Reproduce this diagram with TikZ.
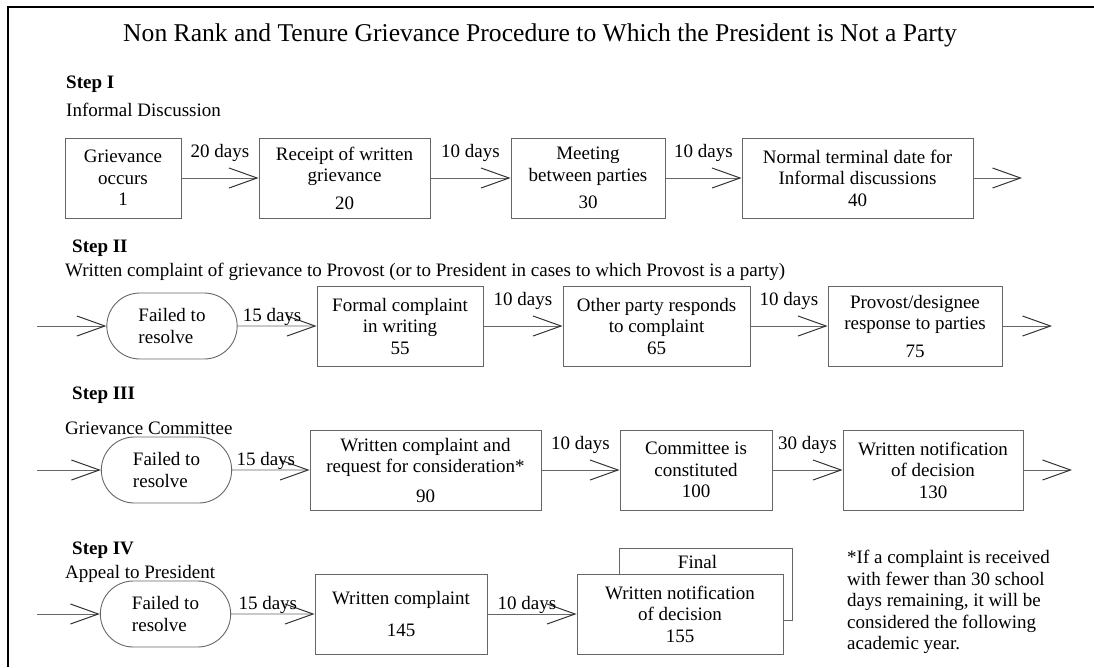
\documentclass[tikz,border=0pt]{standalone}
\usepackage{fontspec}
\setmainfont{Liberation Serif}
\usetikzlibrary{arrows.meta,shapes.misc}
\definecolor{linegray}{HTML}{666666}
\definecolor{tipgray}{HTML}{333333}
\newcommand\bodysize{\fontsize{19}{21.5}\selectfont}

\begin{document}
\bodysize
\begin{tikzpicture}[x=1pt,y=-1pt,
    stepbox/.style={draw=linegray,line width=0.9pt,fill=white,align=center,inner sep=2pt,minimum height=80pt},
    failbox/.style={draw=linegray,line width=0.9pt,rounded rectangle,align=left,minimum width=143pt,minimum height=66pt},
    flow/.style={draw=linegray,line width=0.9pt,-{Straight Barb[length=28pt,width=20pt,line width=1pt,color=tipgray]}},
    dayshi/.style={midway,anchor=base,yshift=20.5pt},
    dayslo/.style={midway,anchor=base,yshift=5pt,xshift=-5pt},
    steplbl/.style={anchor=base west,inner sep=0pt,font=\bodysize\bfseries},
    txtlbl/.style={anchor=base west,inner sep=0pt}]
  \useasboundingbox (0,0) rectangle (1094,667);
  \draw[line width=1.5pt] (8,667) -- (8,7) -- (1094,7);
  \node[anchor=base,font=\fontsize{25.6}{30}\selectfont] (title) at (540,41.5)
    {Non Rank and Tenure Grievance Procedure to Which the President is Not a Party};

  \node[steplbl] (step1) at (66,88) {Step I};
  \node[txtlbl] (sub1) at (66,116) {Informal Discussion};
  \node[stepbox,minimum width=116pt] (occ1) at (123,178) {Grievance\\occurs\\1};
  \node[stepbox,minimum width=171pt] (rcpt20) at (344.5,178) {Receipt of written\\grievance\\[6pt]20};
  \node[stepbox,minimum width=154pt] (meet30) at (588,178) {Meeting\\between parties\\[6pt]30};
  \node[stepbox,minimum width=231pt] (term40) at (857.5,178) {Normal terminal date for\\Informal discussions\\40};
  \coordinate (out1) at (1022,178);

  \node[steplbl] (step2) at (72,252) {Step II};
  \node[txtlbl] (sub2) at (65,276) {Written complaint of grievance to Provost (or to President in cases to which Provost is a party)};
  \coordinate (in2) at (37,326);
  \node[failbox] (fail2) at (172,326) {Failed to\\resolve};
  \node[stepbox,minimum width=166pt] (formal55) at (400,326) {Formal complaint\\in writing\\55};
  \node[stepbox,minimum width=187pt] (resp65) at (656.5,326) {Other party responds\\to complaint\\65};
  \node[stepbox,minimum width=174pt] (prov75) at (915,326) {Provost/designee\\response to parties\\[6pt]75};
  \coordinate (out2) at (1052,326);

  \node[steplbl] (step3) at (72,399) {Step III};
  \node[txtlbl] (sub3) at (65,434) {Grievance Committee};
  \coordinate (in3) at (37,470);
  \node[failbox] (fail3) at (166.5,470) {Failed to\\resolve};
  \node[stepbox,minimum width=231pt] (req90) at (425.5,470) {Written complaint and\\request for consideration*\\[8pt]90};
  \node[stepbox,minimum width=152pt] (comm100) at (696,470) {Committee is\\constituted\\100};
  \node[stepbox,minimum width=180pt] (notif130) at (933,470) {Written notification\\of decision\\130};
  \coordinate (out3) at (1072,470);

  \node[steplbl] (step4) at (72,554) {Step IV};
  \node[txtlbl] (sub4) at (65,578) {Appeal to President};
  \coordinate (in4) at (37,614);
  \node[failbox] (fail4) at (165.5,614) {Failed to\\resolve};
  \node[stepbox,minimum width=172pt] (wc145) at (401,614) {Written complaint\\[10pt]145};
  \node[stepbox,minimum width=173pt,minimum height=72pt,
    label={[anchor=base,yshift=-21pt,xshift=-8pt]north:Final}] (final) at (705.5,584) {};
  \node[stepbox,minimum width=206pt] (notif155) at (680,614) {Written notification\\of decision\\155};
  \node[anchor=north west,align=left,inner sep=0pt] (note) at (847,550)
    {*If a complaint is received\\with fewer than 30 school\\days remaining, it will be\\considered the following\\academic year.};

  \begin{scope}
    \draw[flow] (occ1) -- (rcpt20) node[dayshi] {20 days};
    \draw[flow] (rcpt20) -- (meet30) node[dayshi] {10 days};
    \draw[flow] (meet30) -- (term40) node[dayshi] {10 days};
    \draw[flow] (term40) -- (out1);
    \draw[flow] (in2) -- (fail2);
    \draw[flow] (fail2) -- (formal55) node[dayslo] {15 days};
    \draw[flow] (formal55) -- (resp65) node[dayshi] {10 days};
    \draw[flow] (resp65) -- (prov75) node[dayshi] {10 days};
    \draw[flow] (prov75) -- (out2);
    \draw[flow] (in3) -- (fail3);
    \draw[flow] (fail3) -- (req90) node[dayslo] {15 days};
    \draw[flow] (req90) -- (comm100) node[dayshi] {10 days};
    \draw[flow] (comm100) -- (notif130) node[dayshi] {30 days};
    \draw[flow] (notif130) -- (out3);
    \draw[flow] (in4) -- (fail4);
    \draw[flow] (fail4) -- (wc145) node[dayslo] {15 days};
    \draw[flow] (wc145) -- (notif155) node[dayslo] {10 days};
  \end{scope}
\end{tikzpicture}
\end{document}
